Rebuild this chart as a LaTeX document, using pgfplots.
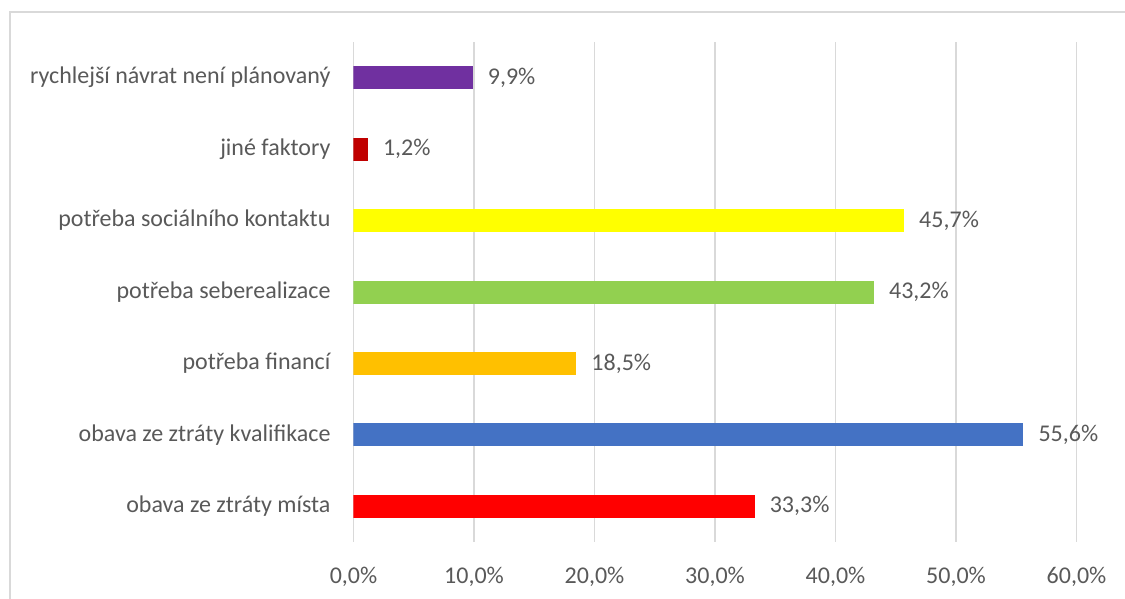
\documentclass[border=0pt]{standalone}
\usepackage{pgfplots}
\pgfplotsset{compat=1.18}
\usepackage{fontspec}
\setmainfont{Carlito}
\definecolor{txt}{HTML}{595959}
\definecolor{gridc}{HTML}{D9D9D9}
\definecolor{cRed}{HTML}{FF0000}
\definecolor{cBlue}{HTML}{4472C4}
\definecolor{cOrange}{HTML}{FFC000}
\definecolor{cGreen}{HTML}{92D050}
\definecolor{cYellow}{HTML}{FFFF00}
\definecolor{cDarkRed}{HTML}{C00000}
\definecolor{cPurple}{HTML}{7030A0}
\begin{document}
\begin{tikzpicture}
\useasboundingbox (0pt,0pt) rectangle (562.5pt,299.5pt);
\begin{scope}
\clip (0pt,0pt) rectangle (562.5pt,299.5pt);
\draw[color=gridc, line width=0.75pt] (5pt,-20pt) rectangle (620pt,293.5pt);
\end{scope}
\begin{axis}[
  at={(176.75pt,28.5pt)}, anchor=south west,
  scale only axis, width=361.5pt, height=250pt,
  xmin=0, xmax=60, ymin=-0.5, ymax=6.5,
  xbar, bar width=11.5pt, bar shift=0pt,
  axis line style={draw=none},
  major tick length=0pt,
  xmajorgrids, ymajorgrids=false,
  grid style={color=gridc, line width=0.75pt},
  xtick={0,10,20,30,40,50,60},
  xticklabels={{0,0\%},{10,0\%},{20,0\%},{30,0\%},{40,0\%},{50,0\%},{60,0\%}},
  ytick={0,1,2,3,4,5,6},
  yticklabels={obava ze ztráty místa, obava ze ztráty kvalifikace, potřeba financí, potřeba seberealizace, potřeba sociálního kontaktu, jiné faktory, rychlejší návrat není plánovaný},
  tick label style={font=\fontsize{12}{14.4}\selectfont, text=txt},
  yticklabel style={xshift=-8pt},
  xticklabel style={yshift=-9pt},
  point meta=explicit symbolic,
  nodes near coords,
  nodes near coords style={font=\fontsize{12}{14.4}\selectfont, text=txt, anchor=west, xshift=4pt},
]
\addplot[fill=cRed, draw=none] coordinates {(33.3,0) [33,3\%]};
\addplot[fill=cBlue, draw=none] coordinates {(55.6,1) [55,6\%]};
\addplot[fill=cOrange, draw=none] coordinates {(18.5,2) [18,5\%]};
\addplot[fill=cGreen, draw=none] coordinates {(43.2,3) [43,2\%]};
\addplot[fill=cYellow, draw=none] coordinates {(45.7,4) [45,7\%]};
\addplot[fill=cDarkRed, draw=none] coordinates {(1.2,5) [1,2\%]};
\addplot[fill=cPurple, draw=none] coordinates {(9.9,6) [9,9\%]};
\end{axis}
\end{tikzpicture}
\end{document}
